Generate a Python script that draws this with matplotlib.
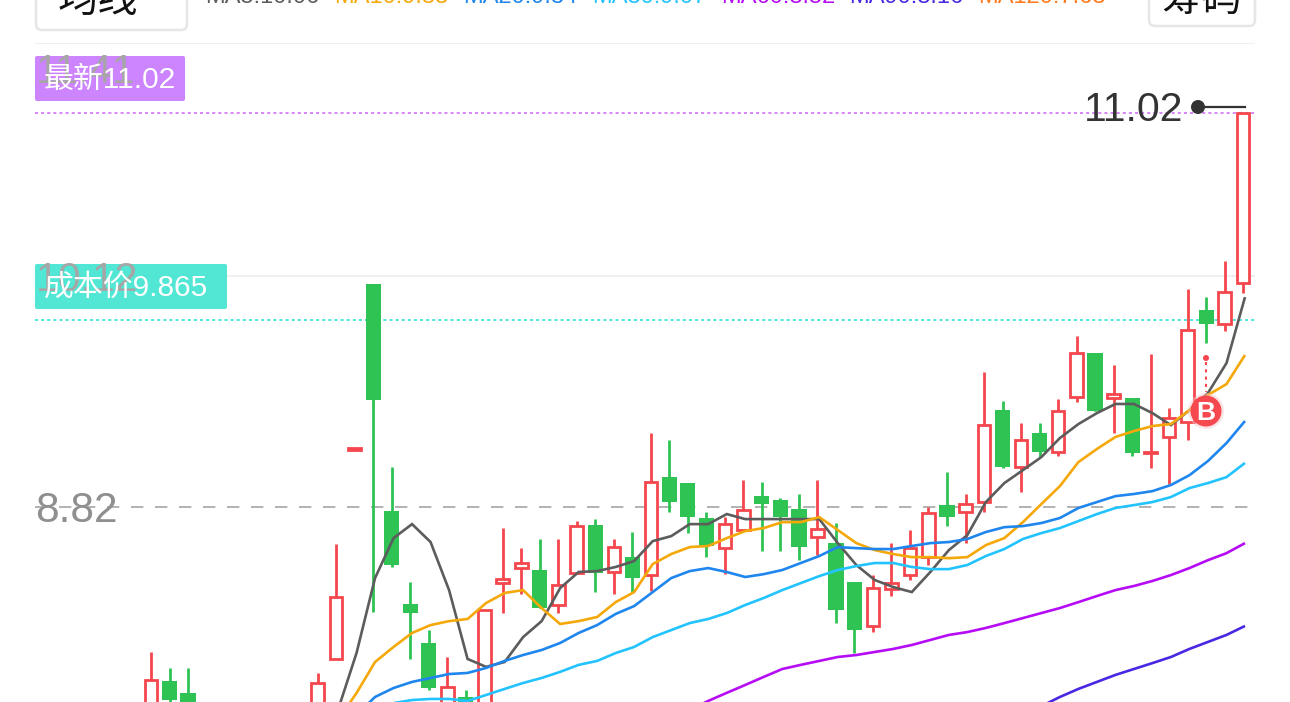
import matplotlib
matplotlib.use('Agg')
from matplotlib import pyplot as plt
from matplotlib.patches import FancyBboxPatch, Rectangle, Circle
import numpy as np

nan = float('nan')

# k-line, oldest first; candles 3..8 lie wholly below the visible part
opens = [7.60, 7.852, 7.785, nan, nan, nan, nan, nan, nan, 7.60,
         7.975, 9.143, 10.066, 8.800, 8.281, 8.064, 7.60, 7.763, 7.60, 8.398,
         8.482, 8.471, 8.276, 8.454, 8.722, 8.460, 8.543, 8.443, 8.990, 8.956,
         8.761, 8.594, 8.694, 8.884, 8.861, 8.811, 8.655, 8.621, 8.404, 8.159,
         8.365, 8.443, 8.543, 8.833, 8.794, 8.850, 9.363, 9.045, 9.235, 9.129,
         9.436, 9.681, 9.430, 9.430, 9.123, 9.213, 9.296, 9.921, 9.843, 10.072]
closes = [7.857, 7.746, 7.60, nan, nan, nan, nan, nan, nan, 7.841,
          8.320, 9.149, 9.419, 8.499, 8.231, 7.813, 7.818, 7.60, 8.248, 8.421,
          8.510, 8.259, 8.387, 8.716, 8.454, 8.599, 8.426, 8.962, 8.850, 8.767,
          8.605, 8.727, 8.806, 8.839, 8.767, 8.599, 8.700, 8.248, 8.136, 8.371,
          8.398, 8.594, 8.789, 8.767, 8.839, 9.280, 9.045, 9.196, 9.129, 9.358,
          9.681, 9.358, 9.452, 9.123, 9.129, 9.319, 9.809, 9.843, 10.021, 11.02]
highs = [8.014, 7.924, 7.924, nan, nan, nan, nan, nan, nan, 7.896,
         8.616, 9.149, 10.066, 9.045, 8.404, 8.136, 7.986, 7.802, 8.248, 8.705,
         8.594, 8.644, 8.644, 8.744, 8.755, 8.644, 8.683, 9.235, 9.196, 8.956,
         8.794, 8.767, 8.973, 8.962, 8.872, 8.895, 8.973, 8.733, 8.404, 8.443,
         8.621, 8.694, 8.822, 9.017, 8.895, 9.575, 9.413, 9.291, 9.291, 9.425,
         9.776, 9.681, 9.614, 9.430, 9.676, 9.374, 10.038, 9.993, 10.194, 11.02]
lows = [7.55, 7.735, 7.55, nan, nan, nan, nan, nan, nan, 7.55,
        7.975, 9.143, 8.237, 8.488, 7.975, 7.802, 7.55, 7.55, 7.55, 8.231,
        8.337, 8.259, 8.231, 8.454, 8.348, 8.337, 8.348, 8.354, 8.794, 8.677,
        8.543, 8.449, 8.694, 8.577, 8.577, 8.527, 8.555, 8.175, 8.008, 8.125,
        8.326, 8.415, 8.499, 8.716, 8.621, 8.794, 9.040, 8.906, 9.101, 9.107,
        9.408, 9.358, 9.235, 9.107, 9.040, 8.951, 9.196, 9.737, 9.804, 10.016]

# moving averages, each list ends on the last candle
ma5 = [7.691, 8.008, 8.426, 8.649, 8.727, 8.627, 8.359, 7.975, 7.931, 7.958,
       8.097, 8.186, 8.370, 8.460, 8.465, 8.488, 8.521, 8.632, 8.660, 8.727,
       8.727, 8.783, 8.755, 8.755, 8.755, 8.755, 8.755, 8.621, 8.499, 8.415,
       8.376, 8.348, 8.460, 8.582, 8.666, 8.850, 8.956, 9.028, 9.101, 9.207,
       9.285, 9.346, 9.397, 9.397, 9.346, 9.279, 9.363, 9.458, 9.625, 9.993]
ma10 = [7.635, 7.785, 7.958, 8.042, 8.120, 8.164, 8.186, 8.198, 8.287, 8.343,
        8.359, 8.259, 8.170, 8.186, 8.209, 8.292, 8.348, 8.504, 8.560, 8.599,
        8.605, 8.649, 8.688, 8.705, 8.738, 8.738, 8.766, 8.694, 8.621, 8.582,
        8.560, 8.543, 8.543, 8.537, 8.543, 8.610, 8.649, 8.738, 8.839, 8.939,
        9.073, 9.146, 9.213, 9.246, 9.274, 9.285, 9.363, 9.447, 9.508, 9.670]
ma20 = [7.663, 7.763, 7.813, 7.847, 7.869, 7.891, 7.897, 7.925, 7.964, 7.997,
        8.025, 8.064, 8.120, 8.164, 8.226, 8.270, 8.348, 8.426, 8.465, 8.482,
        8.460, 8.432, 8.448, 8.471, 8.510, 8.549, 8.599, 8.593, 8.588, 8.588,
        8.605, 8.621, 8.627, 8.644, 8.683, 8.710, 8.716, 8.733, 8.761, 8.817,
        8.850, 8.883, 8.895, 8.911, 8.945, 9.000, 9.079, 9.179, 9.302]
ma30 = [7.729, 7.746, 7.752, 7.752, 7.741, 7.774, 7.808, 7.841, 7.869, 7.903,
        7.942, 7.964, 8.008, 8.042, 8.097, 8.136, 8.175, 8.198, 8.231, 8.276,
        8.315, 8.359, 8.398, 8.437, 8.471, 8.493, 8.510, 8.510, 8.488, 8.476,
        8.476, 8.499, 8.549, 8.588, 8.644, 8.677, 8.705, 8.744, 8.783, 8.817,
        8.833, 8.850, 8.878, 8.928, 8.956, 8.989, 9.068]
ma60 = [7.691, 7.741, 7.786, 7.830, 7.875, 7.919, 7.942, 7.964, 7.986, 7.997,
        8.014, 8.031, 8.053, 8.081, 8.109, 8.125, 8.148, 8.175, 8.203, 8.231,
        8.259, 8.292, 8.326, 8.359, 8.382, 8.410, 8.443, 8.482, 8.526, 8.565, 8.621]
ma90 = [7.712, 7.763, 7.808, 7.847, 7.886, 7.919, 7.952, 7.986, 8.031, 8.070, 8.109, 8.159]

ma_labels = ['MA5:10.06', 'MA10:9.83', 'MA20:9.34', 'MA30:9.07', 'MA60:8.52', 'MA90:8.16', 'MA120:7.63']
ma_colors = ['#5c5c5c', '#f5a80a', '#1f86ee', '#22c3ff', '#b60cf5', '#4a27e2', '#ff7a1c']

y_ticks = [11.41, 10.11, 8.82]
y_tick_labels = ['11.41', '10.12', '8.82']
last_price = 11.02
cost_price = 9.865

RED = '#f4464c'
GREEN = '#2fc354'
FONT = ['Liberation Sans', 'Noto Sans CJK SC']

fig = plt.figure(figsize=(12.9, 7.02), dpi=100)
fig.patch.set_facecolor('white')

# price area, the figure cuts it off at the bottom
ax = fig.add_axes([35 / 1290, 0, 1220 / 1290, 659 / 702])
ax.set_xlim(-6.27, 59.64)
ax.set_ylim(7.735, 11.41)
ax.axis('off')

ax.axhline(y_ticks[0], color='#ececec', lw=1.2, zorder=1)
ax.axhline(y_ticks[1], color='#ececec', lw=1.2, zorder=1)
ax.plot([-6.27, 59.3], [y_ticks[2]] * 2, color='#a6a6a6', lw=1.2, dashes=(7.4, 7), zorder=1)
ax.axhline(last_price, color='#cc66f5', lw=1.1, dashes=(2, 2), zorder=1)
ax.axhline(cost_price, color='#1fdfd0', lw=1.1, dashes=(2, 2), zorder=1)

for i in range(len(opens)):
    if np.isnan(opens[i]):
        continue
    up = closes[i] >= opens[i]
    color = RED if up else GREEN
    top = max(opens[i], closes[i])
    bottom = min(opens[i], closes[i])
    ax.plot([i, i], [bottom, highs[i]], color=color, lw=2, solid_capstyle='butt', zorder=2)
    ax.plot([i, i], [lows[i], top], color=color, lw=2, solid_capstyle='butt', zorder=2)
    if up:
        ax.add_patch(Rectangle((i - 0.34, bottom), 0.68, top - bottom, facecolor='white',
                               edgecolor=color, lw=2, zorder=3))
    else:
        ax.add_patch(Rectangle((i - 0.41, bottom), 0.82, top - bottom, facecolor=color,
                               edgecolor='none', zorder=3))

for values, color in zip([ma5, ma10, ma20, ma30, ma60, ma90], ma_colors):
    xs = np.arange(60 - len(values), 60) + 0.1
    ax.plot(xs, values, color=color, lw=1.9, solid_joinstyle='miter', solid_capstyle='butt', zorder=4)

# header, labels and the buy marker are placed in pixels
ov = fig.add_axes([0, 0, 1, 1], zorder=5)
ov.set_xlim(0, 1290)
ov.set_ylim(702, 0)
ov.axis('off')
ov.patch.set_alpha(0)

for x0, x1, y0, y1 in [(36, 187, -20, 30), (1149, 1255, -20, 26)]:
    ov.add_patch(FancyBboxPatch((x0 + 6, y0), x1 - x0 - 12, y1 - y0 - 6,
                                boxstyle='round,pad=6,rounding_size=6', facecolor='white',
                                edgecolor='#e6e6e6', lw=1.8))
ov.text(98, 12, '均线', color='#111111', fontsize=29, family=FONT, ha='center', va='baseline')
ov.text(1202, 11, '筹码', color='#111111', fontsize=29, family=FONT, ha='center', va='baseline')

for x, label, color in zip([205, 334, 463, 592, 721, 849, 978], ma_labels, ma_colors):
    ov.text(x, 3, label, color=color, fontsize=17, family=FONT, va='baseline')

ov.text(36, 72, y_tick_labels[0], color='#a6a6a6', fontsize=29.5, family=FONT, va='center')
ov.text(36, 280, y_tick_labels[1], color='#a6a6a6', fontsize=29.5, family=FONT, va='center')
ov.text(35, 511, y_tick_labels[2], color='#8f8f8f', fontsize=30.5, family=FONT, va='center')

for x1, y0, y1, color, label in [(185, 56, 101, '#c97cff', '最新%.2f' % last_price),
                                 (227, 264, 309, '#46e6d2', '成本价%.3f' % cost_price)]:
    ov.add_patch(FancyBboxPatch((37, y0 + 2), x1 - 39, y1 - y0 - 4,
                                boxstyle='round,pad=2,rounding_size=2', facecolor=color,
                                edgecolor='none', alpha=0.94))
    ov.text(44, (y0 + y1) / 2 + 1.5, label, color='white', fontsize=21.5, family=FONT, va='center')

# last price tag
ov.text(1084, 110, '%.2f' % last_price, color='#333333', fontsize=29.5, family=FONT, va='center')
ov.plot([1198, 1245], [107, 107], color='#333333', lw=1.6)
ov.add_patch(Circle((1198, 107), 7, color='#333333', lw=0))

# buy marker
ov.plot([1206, 1206], [362, 392], color=RED, lw=1.5, dashes=(1.5, 2))
ov.add_patch(Circle((1206, 358), 3, color=RED, lw=0))
ov.add_patch(Circle((1206, 411), 18, color='#f7c5c6', alpha=0.45, lw=0))
ov.add_patch(Circle((1206, 411), 15.5, color='#f6494f', lw=0))
ov.text(1206, 411, 'B', color='white', fontsize=19, fontweight='bold', family=FONT, ha='center', va='center_baseline')

plt.savefig('out.png', dpi=100)
